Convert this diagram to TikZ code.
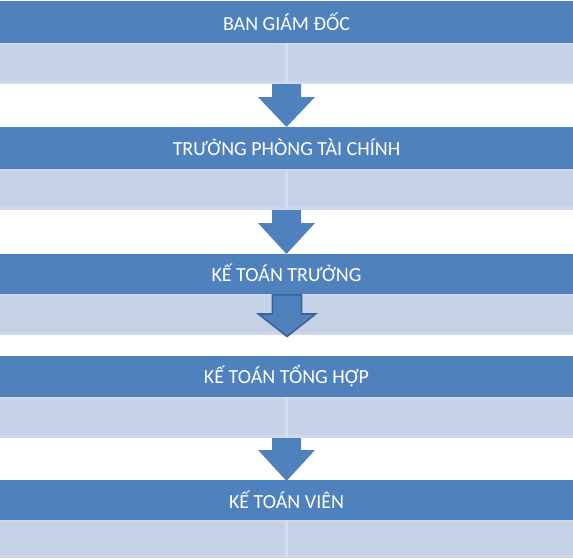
\documentclass[tikz,border=0pt]{standalone}
\usepackage{fontspec}
\setmainfont{Carlito}
\definecolor{barblue}{HTML}{4F81BD}
\definecolor{rowblue}{HTML}{C5D1E5}
\definecolor{stripblue}{HTML}{CFD8EA}
\definecolor{divblue}{HTML}{D6DDEC}
\definecolor{edgeblue}{HTML}{3A6599}
\tikzset{
  barbox/.style={fill=barblue, draw=none},
  rowbox/.style={fill=rowblue, draw=none},
  stripbox/.style={fill=stripblue, draw=none},
  bartext/.style={text=white, font=\fontsize{20}{22}\selectfont, inner sep=0pt},
  blockarrow/.style={fill=barblue, draw=none},
  outlinearrow/.style={fill=barblue, draw=edgeblue, line width=1.6pt, line join=miter},
}
\newcommand{\TierRow}[3]{% top of bar, bottom of bar, bottom of row
  \fill[barbox] (0,#1) rectangle (573,#2);
  \fill[rowbox] (0,#2) rectangle (573,#3);
  \fill[stripbox] (0,#2) rectangle (573,#2+2.2);
  \fill[stripbox] (0,#3-3) rectangle (573,#3);
  \fill[divblue] (285.2,#2) rectangle (287.6,#3);
}
\newcommand{\ArrowPath}[4]{% top, head start, tip, x shift
  (272+#4,#1) -- (301+#4,#1) -- (301+#4,#2) -- (315+#4,#2) -- (286.5+#4,#3)
  -- (258+#4,#2) -- (272+#4,#2) -- cycle
}
\begin{document}
\begin{tikzpicture}[x=1pt,y=-1pt]
\useasboundingbox (0,0) rectangle (573,558);
\fill[white] (0,0) rectangle (573,558);

\TierRow{1}{43}{84}
\TierRow{127}{169}{210}
\TierRow{254}{294}{335}
\TierRow{356}{397}{438}
\TierRow{480}{520}{558}

\node[bartext] (b1) at (286.5,21.5) {BAN GIÁM ĐỐC};
\node[bartext] (b2) at (286.5,147.5) {TRƯỞNG PHÒNG TÀI CHÍNH};
\node[bartext] (b3) at (286.5,273) {KẾ TOÁN TRƯỞNG};
\node[bartext] (b4) at (286.5,376) {KẾ TOÁN TỔNG HỢP};
\node[bartext] (b5) at (286.5,499.5) {KẾ TOÁN VIÊN};

\fill[blockarrow] \ArrowPath{84}{97}{127}{0};
\fill[blockarrow] \ArrowPath{210}{223}{254}{0};
\filldraw[outlinearrow] \ArrowPath{294.8}{314}{336.5}{0.5};
\fill[blockarrow] \ArrowPath{438}{450}{481}{0};
\end{tikzpicture}
\end{document}
